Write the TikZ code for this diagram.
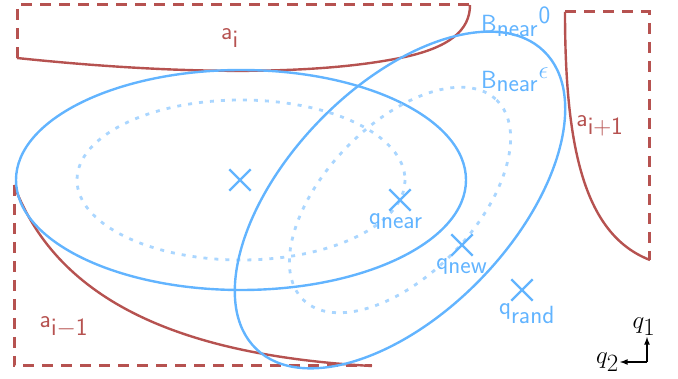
\documentclass[tikz,border=0pt]{standalone}
\usetikzlibrary{positioning,shapes.misc}
\definecolor{obstred}{RGB}{182,82,80}
\definecolor{nearblue}{RGB}{98,180,255}
\definecolor{epsblue}{RGB}{170,214,255}
\tikzset{
  obst/.style={draw=obstred,line width=2.4pt},
  obstdash/.style={draw=obstred,line width=3pt,dash pattern=on 11pt off 8pt},
  ball/.style={draw=nearblue,line width=2.4pt},
  epsball/.style={draw=epsblue,line width=2.8pt,dash pattern=on 4pt off 7pt},
  qcross/.style={cross out,draw=nearblue,line width=2.4pt,minimum size=19pt,inner sep=0pt},
  qlab/.style={text=nearblue,inner sep=0pt},
  alab/.style={text=obstred,inner sep=0pt}
}
\begin{document}
\begin{tikzpicture}[x=1pt,y=-1pt,>=latex,font=\fontsize{34}{40}\selectfont]
  \useasboundingbox (0,0) rectangle (678,379);
  % obstacles
  \draw[obstdash] (17,58) -- (17,5) -- (470,5);
  \draw[obst] (17,58) .. controls (150,72) and (300,78) .. (400,58)
    .. controls (450,48) and (470,30) .. (470,5);
  \draw[obstdash] (565,12) -- (649,12) -- (649,260);
  \draw[obst] (565,12) .. controls (565,150) and (585,235) .. (650,260);
  \draw[obstdash] (14,185) -- (14,366) -- (372,366);
  \draw[obst] (14,185) .. controls (55,295) and (170,355) .. (372,366);
  % balls
  \draw[epsball] (241,180) ellipse [x radius=164,y radius=80];
  \draw[ball] (241,180) ellipse [x radius=225,y radius=110];
  \draw[epsball,rotate around={46:(400,200)}] (400,200) ellipse [x radius=139,y radius=75];
  \draw[ball,rotate around={46:(400,200)}] (400,200) ellipse [x radius=207,y radius=113];
  % samples
  \node[qcross] (qold) at (240,180) {};
  \node[qcross] (qnear) at (400,200) {};
  \node[qcross] (qnew) at (462,245) {};
  \node[qcross] (qrand) at (522,290) {};
  \node[qlab,below=3pt of qnear,xshift=-4pt] (lnear) {$\mathsf{q}_{\mathsf{near}}$};
  \node[qlab,below=3pt of qnew] (lnew) {$\mathsf{q}_{\mathsf{new}}$};
  \node[qlab,below=3pt of qrand,xshift=5pt] (lrand) {$\mathsf{q}_{\mathsf{rand}}$};
  % labels
  \node[alab] (ai) at (230,38) {$\mathsf{a}_{\mathsf{i}}$};
  \node[alab] (ainext) at (600,126) {$\mathsf{a}_{\mathsf{i+1}}$};
  \node[alab] (aiprev) at (64,327) {$\mathsf{a}_{\mathsf{i}-\mathsf{1}}$};
  \node[qlab] (bzero) at (516,22) {${\mathsf{B}_{\mathsf{near}}}^{\mathsf{0}}$};
  \node[qlab] (beps) at (515,80) {${\mathsf{B}_{\mathsf{near}}}^{\epsilon}$};
  % axes
  \coordinate (ax) at (647,362);
  \coordinate (axup) at (647,337);
  \coordinate (axleft) at (620,362);
  \node[above=0pt of axup,xshift=-3pt,inner sep=1pt] (qone) {$q_1$};
  \node[left=0pt of axleft,inner sep=1pt] (qtwo) {$q_2$};
  \draw[->,line width=1.6pt] (ax) -- (axup);
  \draw[->,line width=1.6pt] (ax) -- (axleft);
\end{tikzpicture}
\end{document}
